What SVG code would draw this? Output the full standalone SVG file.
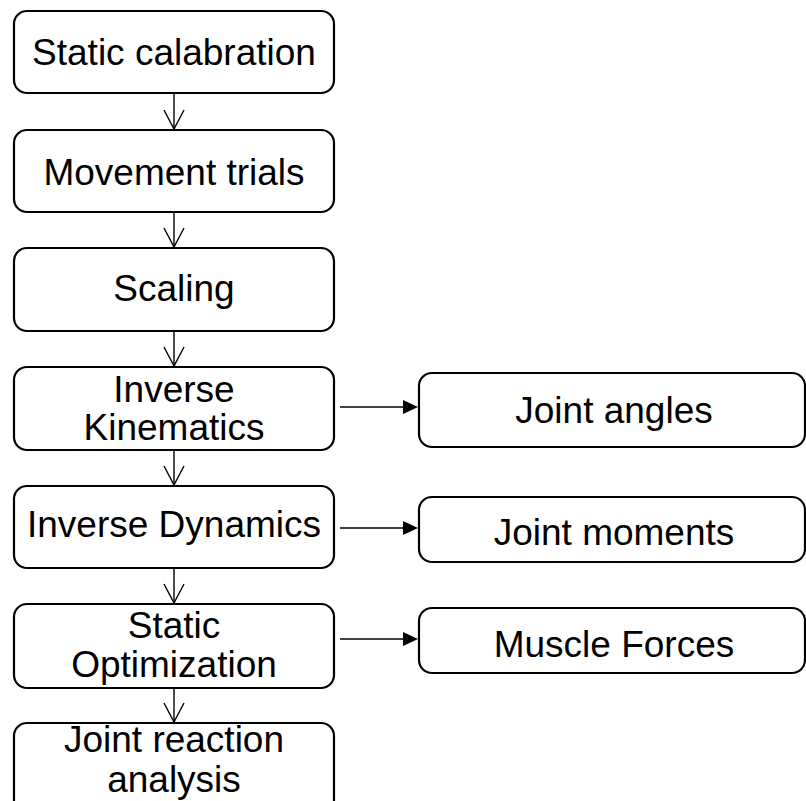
<svg xmlns="http://www.w3.org/2000/svg" width="806" height="801" viewBox="0 0 806 801">
<defs>
<style>
.box{fill:#fff;stroke:#000;stroke-width:2.2}
.t{font-family:"Liberation Sans",Arial,sans-serif;font-size:37px;fill:#000;text-anchor:middle}
.c{stroke:#000;stroke-width:1.4;fill:none}
.h{fill:#000}
</style>
</defs>
<rect width="806" height="801" fill="#fff"/>
<g id="connectors">
<line class="c" x1="174" y1="93" x2="174" y2="129"/>
<path class="c" d="M164,110 L174,129 L184,110"/>
<line class="c" x1="174" y1="212" x2="174" y2="247"/>
<path class="c" d="M164,228 L174,247 L184,228"/>
<line class="c" x1="174" y1="331" x2="174" y2="366"/>
<path class="c" d="M164,347 L174,366 L184,347"/>
<line class="c" x1="174" y1="450" x2="174" y2="485"/>
<path class="c" d="M164,466 L174,485 L184,466"/>
<line class="c" x1="174" y1="568" x2="174" y2="603"/>
<path class="c" d="M164,584 L174,603 L184,584"/>
<line class="c" x1="174" y1="688" x2="174" y2="722"/>
<path class="c" d="M164,703 L174,722 L184,703"/>
<line class="c" x1="340" y1="407" x2="405" y2="407"/>
<path class="h" d="M403,400 L418,407 L403,414 Z"/>
<line class="c" x1="340" y1="528" x2="405" y2="528"/>
<path class="h" d="M403,521 L418,528 L403,535 Z"/>
<line class="c" x1="340" y1="639" x2="405" y2="639"/>
<path class="h" d="M403,632 L418,639 L403,646 Z"/>
</g>
<g id="static-calibration">
<rect class="box" x="14" y="11" width="320" height="82" rx="13"/>
<text class="t" x="174" y="65">Static calabration</text>
</g>
<g id="movement-trials">
<rect class="box" x="14" y="130" width="320" height="82" rx="13"/>
<text class="t" x="174" y="185">Movement trials</text>
</g>
<g id="scaling">
<rect class="box" x="14" y="248" width="320" height="83" rx="13"/>
<text class="t" x="174" y="301">Scaling</text>
</g>
<g id="inverse-kinematics">
<rect class="box" x="14" y="367" width="320" height="83" rx="13"/>
<text class="t" x="174" y="402">Inverse</text>
<text class="t" x="174" y="440">Kinematics</text>
</g>
<g id="inverse-dynamics">
<rect class="box" x="14" y="486" width="320" height="82" rx="13"/>
<text class="t" x="174" y="537">Inverse Dynamics</text>
</g>
<g id="static-optimization">
<rect class="box" x="14" y="604" width="320" height="84" rx="13"/>
<text class="t" x="174" y="638">Static</text>
<text class="t" x="174" y="677">Optimization</text>
</g>
<g id="joint-reaction-analysis">
<rect class="box" x="14" y="723" width="320" height="100" rx="13"/>
<text class="t" x="174" y="752">Joint reaction</text>
<text class="t" x="174" y="792">analysis</text>
</g>
<g id="joint-angles">
<rect class="box" x="419" y="373" width="386" height="74" rx="13"/>
<text class="t" x="614" y="423">Joint angles</text>
</g>
<g id="joint-moments">
<rect class="box" x="419" y="497" width="386" height="65" rx="13"/>
<text class="t" x="614" y="545">Joint moments</text>
</g>
<g id="muscle-forces">
<rect class="box" x="419" y="608" width="386" height="65" rx="13"/>
<text class="t" x="614" y="657">Muscle Forces</text>
</g>
</svg>
